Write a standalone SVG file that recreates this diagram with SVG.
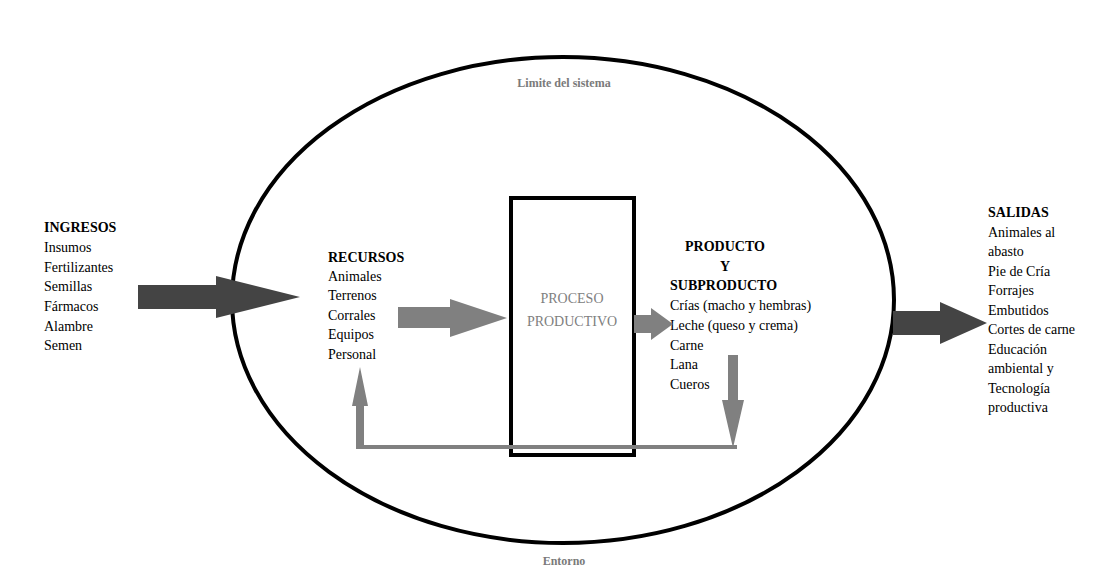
<svg xmlns="http://www.w3.org/2000/svg" width="1119" height="570" viewBox="0 0 1119 570">
<style>
text{font-family:"Liberation Serif","Times New Roman","DejaVu Serif",serif;font-size:14px;fill:#000}
.b{font-weight:bold}
.g{fill:#7a7a7a;font-weight:bold;font-size:12px}
.p{fill:#808080;font-size:14px}
.dk{fill:#444}
.md{fill:#808080}
</style>
<rect width="1119" height="570" fill="#fff"/>
<g id="system"><ellipse cx="563" cy="300" rx="331" ry="243" fill="none" stroke="#000" stroke-width="4"/>
<text class="g" x="564" y="87" text-anchor="middle">Limite del sistema</text>
<text class="g" x="564" y="565" text-anchor="middle">Entorno</text></g>
<g id="proceso"><rect x="511" y="198" width="123" height="257" fill="none" stroke="#000" stroke-width="4"/>
<text class="p" x="572" y="303" text-anchor="middle">PROCESO</text>
<text class="p" x="572" y="326" text-anchor="middle">PRODUCTIVO</text></g>
<g id="ingresos"><text class="b" x="44" y="232">INGRESOS</text>
<text x="44" y="252">Insumos</text><text x="44" y="272">Fertilizantes</text><text x="44" y="291">Semillas</text><text x="44" y="311">Fármacos</text><text x="44" y="331">Alambre</text><text x="44" y="350">Semen</text></g>
<g id="recursos"><text class="b" x="328" y="262">RECURSOS</text>
<text x="328" y="281">Animales</text><text x="328" y="300">Terrenos</text><text x="328" y="320">Corrales</text><text x="328" y="339">Equipos</text><text x="328" y="359">Personal</text></g>
<g id="producto"><text class="b" x="685" y="251">PRODUCTO</text><text class="b" x="720" y="271">Y</text><text class="b" x="670" y="290">SUBPRODUCTO</text>
<text x="670" y="310">Crías (macho y hembras)</text><text x="670" y="330">Leche (queso y crema)</text><text x="670" y="350">Carne</text><text x="670" y="369">Lana</text><text x="670" y="389">Cueros</text></g>
<g id="salidas"><text class="b" x="988" y="217">SALIDAS</text>
<text x="988" y="237">Animales al</text><text x="988" y="256">abasto</text><text x="988" y="276">Pie de Cría</text><text x="988" y="295">Forrajes</text><text x="988" y="315">Embutidos</text><text x="988" y="334">Cortes de carne</text><text x="988" y="354">Educación</text><text x="988" y="373">ambiental y</text><text x="988" y="393">Tecnología</text><text x="988" y="412">productiva</text></g>
<g id="connectors">
<polygon class="dk" points="138,285 216,285 216,276 300,297 216,318 216,309 138,309"/>
<polygon class="md" points="398,307 450,307 450,299 507,318 450,337 450,328 398,328"/>
<polygon class="md" points="634,315 651,315 651,308 673,324 651,340 651,333 634,333"/>
<polygon class="dk" points="893,311 940,311 940,302 987,323 940,344 940,335 893,335"/>
<polygon class="md" points="728,355 738,355 738,400 744,400 733,448 722,400 728,400"/>
<polygon class="md" points="356,448 356,406 352,406 360,367 368,406 364,406 364,445 737,445 737,449 356,449"/>
</g>
</svg>
